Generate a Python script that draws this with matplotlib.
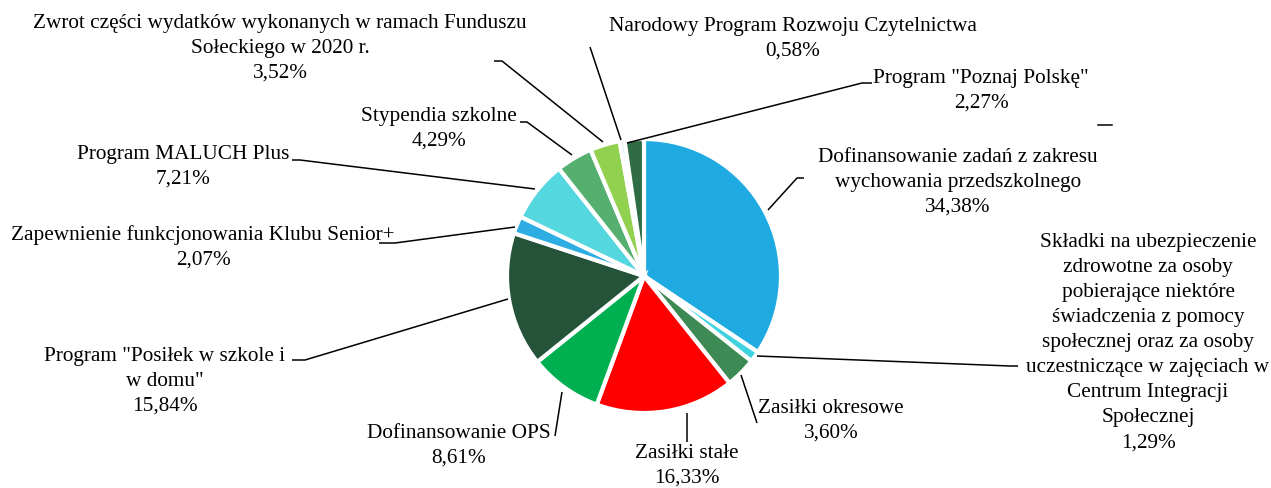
import matplotlib
matplotlib.use("Agg")
import matplotlib.pyplot as plt

labels = [
    "Dofinansowanie zadań z zakresu\nwychowania przedszkolnego",
    "Składki na ubezpieczenie\nzdrowotne za osoby\npobierające niektóre\nświadczenia z pomocy\nspołecznej oraz za osoby\nuczestniczące w zajęciach w\nCentrum Integracji\nSpołecznej",
    "Zasiłki okresowe",
    "Zasiłki stałe",
    "Dofinansowanie OPS",
    "Program \"Posiłek w szkole i\nw domu\"",
    "Zapewnienie funkcjonowania Klubu Senior+",
    "Program MALUCH Plus",
    "Stypendia szkolne",
    "Zwrot części wydatków wykonanych w ramach Funduszu\nSołeckiego w 2020 r.",
    "Narodowy Program Rozwoju Czytelnictwa",
    "Program \"Poznaj Polskę\"",
]
values = [34.38, 1.29, 3.60, 16.33, 8.61, 15.84, 2.07, 7.21, 4.29, 3.52, 0.58, 2.27]
pct_labels = ["34,38%", "1,29%", "3,60%", "16,33%", "8,61%", "15,84%",
              "2,07%", "7,21%", "4,29%", "3,52%", "0,58%", "2,27%"]
colors = ["#1FABE2", "#3FD3E0", "#3D8A55", "#FF0000", "#00B050", "#24533A",
          "#2EADE3", "#55D7E0", "#55AF6E", "#92D050", "#A8E6F0", "#2F6B43"]

W, H = 1271, 489
fig = plt.figure(figsize=(W / 100, H / 100), dpi=100)
ax = fig.add_axes([0, 0, 1, 1])

cx, cy, r = 644, H - 277, 137
ax.pie(values, colors=colors, startangle=90, counterclock=False,
       center=(cx, cy), radius=r, frame=True,
       wedgeprops=dict(edgecolor="white", linewidth=3))
ax.set_xlim(0, W)
ax.set_ylim(0, H)
ax.set_aspect("equal")
ax.axis("off")

font = dict(family="Liberation Serif", fontsize=15.3, color="#000000",
            ha="center", va="top", linespacing=1.43)

# text center x, text top y, leader points (pixel coords, y down)
layout = [
    (958, 148, [(768, 211), (797, 179), (804, 179)]),
    (1148, 233, [(757, 357), (1010, 367), (1018, 367)]),
    (831, 399, [(741, 376), (757, 424)]),
    (687, 444, [(687, 414), (687, 443)]),
    (459, 424, [(562, 393), (555, 437)]),
    (165, 347, [(508, 300), (305, 361), (292, 361)]),
    (203, 225, [(515, 228), (395, 244), (379, 244)]),
    (183, 145, [(535, 190), (300, 161), (292, 161)]),
    (439, 107, [(572, 156), (527, 123), (520, 123)]),
    (280, 14, [(603, 143), (502, 62), (494, 62)]),
    (793, 17, [(621, 141), (590, 48)]),
    (981, 69, [(627, 144), (862, 84), (872, 84)]),
]

for lab, pct, (tx, ty, pts) in zip(labels, pct_labels, layout):
    ax.text(tx, H - ty, lab + "\n" + pct, **font)
    xs = [p[0] for p in pts]
    ys = [H - p[1] for p in pts]
    ax.plot(xs, ys, color="black", linewidth=1.1, solid_capstyle="butt")

# stray leader fragment
ax.plot([1098, 1112], [H - 126, H - 126], color="black", linewidth=1.1)

fig.savefig("out.png", dpi=100)
